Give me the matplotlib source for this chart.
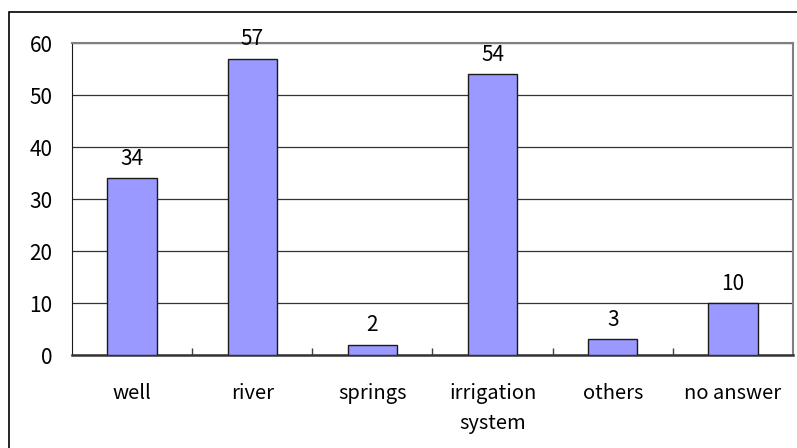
import numpy as np
import matplotlib.pyplot as plt
from matplotlib.patches import Rectangle

# answers per water source
categories = ["well", "river", "springs", "irrigation\nsystem", "others", "no answer"]
counts = [34, 57, 2, 54, 3, 10]
y_ticks = [0, 10, 20, 30, 40, 50, 60]

plt.rcParams["font.family"] = ["Noto Sans CJK JP", "DejaVu Sans"]

fig = plt.figure(figsize=(7.97, 4.48), dpi=100)
ax = fig.add_axes([72 / 797, 1 - 355 / 448, 721 / 797, 312 / 448])

x = np.arange(len(categories))
ax.bar(x, counts, width=0.41, color="#9999FF", edgecolor="#1a1a1a",
       linewidth=1.0, zorder=3)

for xi, v in zip(x, counts):
    ax.annotate(str(v), (xi, v), xytext=(0, 6), textcoords="offset points",
                ha="center", va="bottom", fontsize=15, zorder=4)

ax.set_xlim(-0.5, len(categories) - 0.5)
ax.set_ylim(0, 60)
ax.set_yticks(y_ticks)
ax.set_yticklabels([str(t) for t in y_ticks], fontsize=15)
ax.tick_params(axis="y", length=0, pad=14)

ax.set_xticks(x)
ax.set_xticklabels(categories, fontsize=14.5, linespacing=1.6, va="top")
ax.tick_params(axis="x", which="major", length=0, pad=20)
ax.set_xticks(np.arange(0.5, len(categories) - 1, 1.0), minor=True)
ax.tick_params(axis="x", which="minor", direction="in", length=5,
               width=1, color="#404040")

ax.grid(axis="y", color="#333333", linewidth=0.9, zorder=0)

for side in ("top", "right"):
    ax.spines[side].set_color("#808080")
    ax.spines[side].set_linewidth(1.5)
ax.spines["left"].set_color("#1a1a1a")
ax.spines["bottom"].set_color("#333333")
ax.spines["bottom"].set_linewidth(1.8)

# chart frame around everything, running off the right and bottom edges
fig.patches.append(Rectangle((9 / 797, -0.05), 1.0, 1 - 12 / 448 + 0.05,
                             transform=fig.transFigure, fill=False,
                             edgecolor="black", linewidth=1.2))

fig.savefig("out.png", dpi=100)
